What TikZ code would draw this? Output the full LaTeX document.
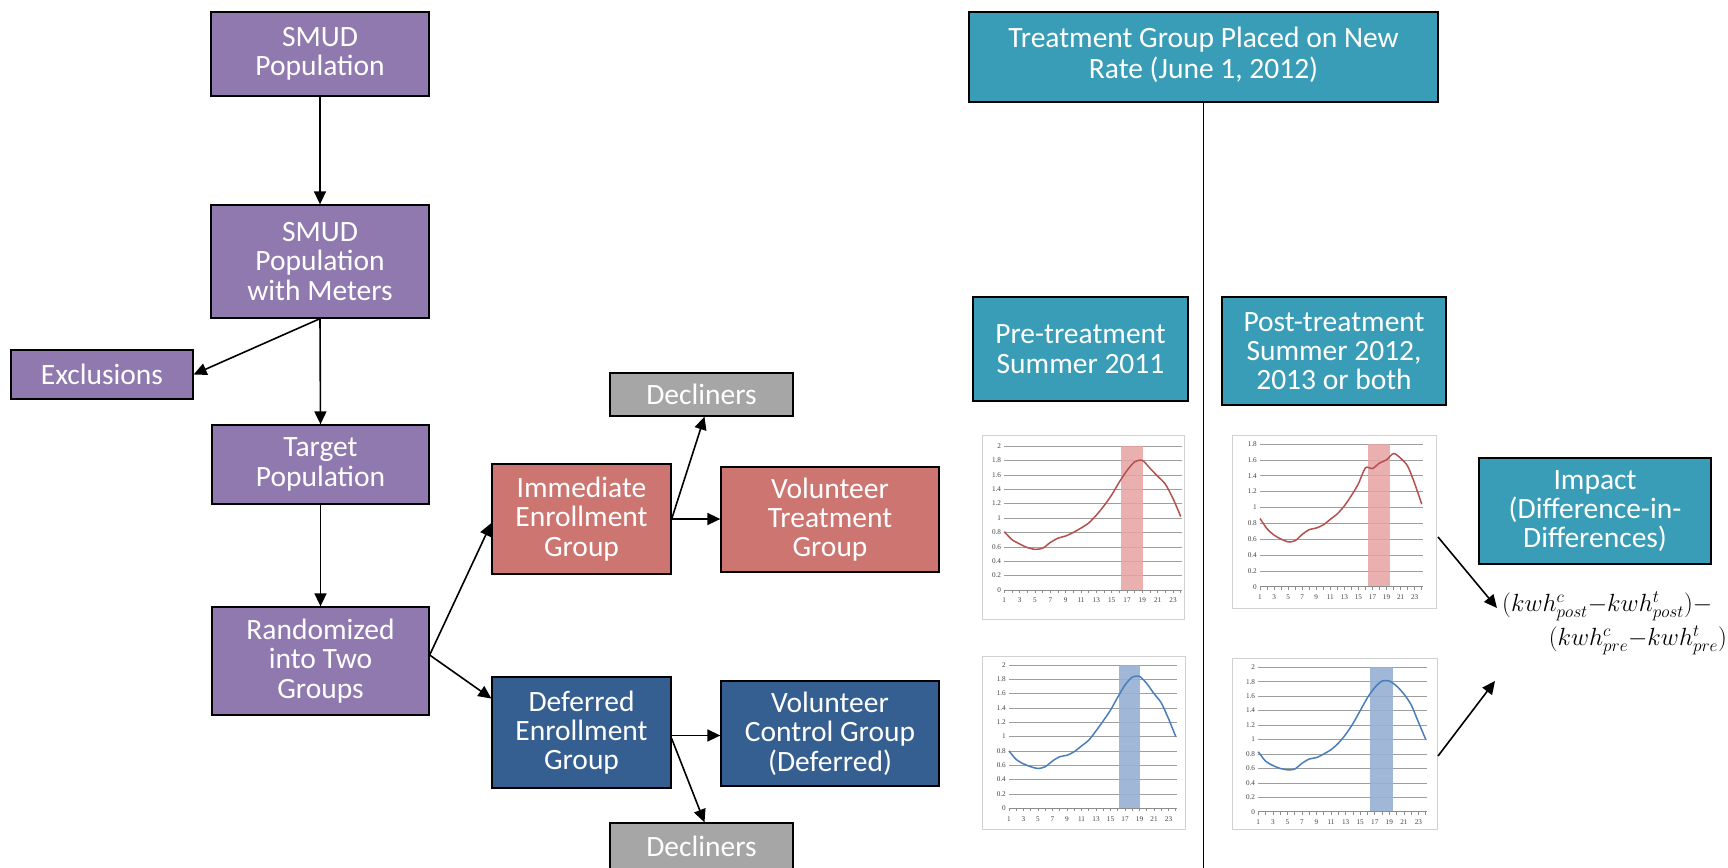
\documentclass[tikz,border=0pt]{standalone}
\usepackage{fontspec}
\setmainfont{Carlito}
\newfontfamily\chfont{Liberation Serif}
\usetikzlibrary{arrows.meta,calc}
\definecolor{cpurple}{HTML}{9079AE}
\definecolor{cred}{HTML}{CD7571}
\definecolor{cblue}{HTML}{365F91}
\definecolor{cteal}{HTML}{3A9DB7}
\definecolor{cgray}{HTML}{A6A6A6}
\definecolor{redline}{HTML}{B4504D}
\definecolor{blueline}{HTML}{4A7EBB}
\definecolor{redbarc}{HTML}{E6A3A2}
\definecolor{bluebarc}{HTML}{97B0D3}
\newcommand{\bxfont}{\fontsize{29.5}{29.3}\selectfont}
\newcommand{\mychart}[8]{%
\begin{scope}[xshift=#1pt,yshift=-#2pt,x=#3pt,y=#4pt]
  \foreach \v in {#5}{\draw[gridl] (1,\v) -- (24.2,\v);
    \node[ylab] at (1,\v) {\v};}
  \fill[#7bar] #6;
  \draw[axisl] (1,0) -- (24.2,0);
  \foreach \h in {1,...,24}{\draw[axisl] (\h,0) -- ++(0pt,-3pt);}
  \foreach \h in {1,3,...,23}{\node[xlab] at (\h,0) {\h};}
  \draw[#7curve] plot[smooth,tension=0.45] coordinates {#8};
\end{scope}}
\begin{document}
\begin{tikzpicture}[x=1pt,y=-1pt,
  box/.style={draw=black,line width=1.3pt,text=white,align=center,font=\bxfont,inner sep=0pt},
  pbox/.style={box,fill=cpurple},
  rbox/.style={box,fill=cred},
  bbox/.style={box,fill=cblue},
  tbox/.style={box,fill=cteal},
  gbox/.style={box,fill=cgray},
  conn/.style={line width=1.6pt,-{Triangle[length=13pt,width=12pt]}},
  gridl/.style={draw=black!38,line width=0.6pt},
  axisl/.style={draw=black!45,line width=0.7pt},
  ylab/.style={anchor=east,font=\chfont\fontsize{7.2}{8}\selectfont,text=black!75,inner sep=0pt,xshift=-3pt},
  xlab/.style={anchor=north,font=\chfont\fontsize{7.2}{8}\selectfont,text=black!75,inner sep=0pt,yshift=-8pt},
  redbar/.style={fill=redbarc,opacity=0.85},
  bluebar/.style={fill=bluebarc,opacity=0.9},
  redcurve/.style={draw=redline,line width=1.5pt},
  bluecurve/.style={draw=blueline,line width=1.5pt},
  frame/.style={draw=black!18,line width=0.8pt,fill=white},
  formula/.style={inner sep=0pt,font=\fontsize{25}{28}\selectfont}]
\useasboundingbox (0,0) rectangle (1728,867);
\fill[white] (0,0) rectangle (1728,867);

% left flow
\node[pbox,minimum width=218pt,minimum height=84pt] (pop) at (320,54) {SMUD\\Population};
\node[pbox,minimum width=218pt,minimum height=113pt] (meters) at (320,261.5) {SMUD\\Population\\with Meters};
\node[pbox,minimum width=182pt,minimum height=49pt] (excl) at (102,374.5) {Exclusions};
\node[pbox,minimum width=217pt,minimum height=79pt] (target) at (320.5,464.5) {Target\\Population};
\node[pbox,minimum width=217pt,minimum height=108pt] (rand) at (320.5,661) {Randomized\\into Two\\Groups};
\node[rbox,minimum width=179pt,minimum height=110pt] (imm) at (581.5,519) {Immediate\\Enrollment\\Group};
\node[rbox,minimum width=218pt,minimum height=105pt] (vtg) at (830,519.5) {Volunteer\\Treatment\\Group};
\node[gbox,minimum width=183pt,minimum height=43pt] (decl1) at (701.5,394.5) {Decliners};
\node[bbox,minimum width=179pt,minimum height=111pt] (def) at (581.5,732.5) {Deferred\\Enrollment\\Group};
\node[bbox,minimum width=218pt,minimum height=105pt] (vcg) at (830,733.5) {Volunteer\\Control Group\\(Deferred)};
\node[gbox,minimum width=183pt,minimum height=46pt] (decl2) at (701.5,846) {Decliners};

\draw[conn] (pop.south) -- (meters.north);
\draw[conn] (meters.south) -- (target.north);
\draw[conn] (meters.south) -- (excl.east);
\draw[conn] (target.south) -- (rand.north);
\draw[conn] ([yshift=6pt]rand.east) -- ([yshift=-4pt]imm.west);
\draw[conn] ([yshift=6pt]rand.east) -- ([yshift=34pt]def.west);
\draw[conn] (imm.east) -- (imm.east -| vtg.west);
\draw[conn] (imm.east) -- ([xshift=3pt]decl1.south);
\draw[conn] ([yshift=-3pt]def.east) -- ([yshift=-3pt]def.east -| vcg.west);
\draw[conn] ([yshift=-6pt]def.east) -- ([xshift=3pt]decl2.north);

% right side
\node[tbox,minimum width=469pt,minimum height=90pt] (treat) at (1203.5,57) {\raisebox{5pt}{\begin{tabular}{@{}c@{}}Treatment Group Placed on New\\Rate (June 1, 2012)\end{tabular}}};
\coordinate (lineend) at (1203.5,870);
\draw[line width=1.3pt] (treat.south) -- (lineend);
\node[tbox,minimum width=215pt,minimum height=104pt] (pre) at (1080.5,349) {Pre-treatment\\Summer 2011};
\node[tbox,minimum width=224pt,minimum height=108pt] (post) at (1334,351) {Post-treatment\\Summer 2012,\\2013 or both};
\node[tbox,minimum width=232pt,minimum height=106pt] (impact) at (1595,511) {Impact\\(Difference-in-\\Differences)};

% charts
\draw[frame] (982,435) rectangle (1184,619);
\mychart{996.6}{590}{7.67}{72}{0,0.2,0.4,0.6,0.8,1,1.2,1.4,1.6,1.8,2}{(16.2,0) rectangle (19.1,2)}{red}{(1,0.81) (2,0.70) (3,0.64) (4,0.59) (5,0.565) (6,0.58) (7,0.66) (8,0.72) (9,0.75) (10,0.80) (11,0.86) (12,0.93) (13,1.04) (14,1.17) (15,1.32) (16,1.50) (17,1.66) (18,1.78) (19,1.80) (20,1.69) (21,1.58) (22,1.47) (23,1.27) (24,1.02)}

\draw[frame] (1232,435) rectangle (1436,608);
\mychart{1253}{586.7}{7.03}{79.3}{0,0.2,0.4,0.6,0.8,1,1.2,1.4,1.6,1.8}{(16.3,0) rectangle (19.5,1.8)}{red}{(1,0.86) (2,0.73) (3,0.65) (4,0.60) (5,0.565) (6,0.58) (7,0.66) (8,0.72) (9,0.74) (10,0.78) (11,0.85) (12,0.92) (13,1.02) (14,1.15) (15,1.30) (16,1.50) (17,1.49) (18,1.56) (19,1.60) (20,1.68) (21,1.62) (22,1.52) (23,1.30) (24,1.04)}

\draw[frame] (982,656) rectangle (1185,829);
\mychart{1001.75}{808.3}{7.25}{71.7}{0,0.2,0.4,0.6,0.8,1,1.2,1.4,1.6,1.8,2}{(16.2,0) rectangle (19.1,2)}{blue}{(1,0.80) (2,0.68) (3,0.62) (4,0.58) (5,0.555) (6,0.58) (7,0.66) (8,0.72) (9,0.74) (10,0.79) (11,0.87) (12,0.95) (13,1.08) (14,1.22) (15,1.37) (16,1.55) (17,1.72) (18,1.83) (19,1.84) (20,1.74) (21,1.60) (22,1.47) (23,1.25) (24,1.00)}

\draw[frame] (1232,658) rectangle (1437,829);
\mychart{1251}{811.7}{7.28}{72.2}{0,0.2,0.4,0.6,0.8,1,1.2,1.4,1.6,1.8,2}{(16.4,0) rectangle (19.5,2)}{blue}{(1,0.83) (2,0.70) (3,0.64) (4,0.60) (5,0.58) (6,0.59) (7,0.67) (8,0.73) (9,0.75) (10,0.80) (11,0.86) (12,0.95) (13,1.07) (14,1.22) (15,1.40) (16,1.58) (17,1.72) (18,1.81) (19,1.81) (20,1.74) (21,1.63) (22,1.48) (23,1.24) (24,1.00)}

% formula
\node[formula,anchor=west] (f1) at (1502,606) {$\bigl(kwh^{c}_{post}{-}kwh^{t}_{post}\bigr)-$};
\node[formula,anchor=east] (f2) at (1727,640) {$\bigl(kwh^{c}_{pre}{-}kwh^{t}_{pre}\bigr)$};
\coordinate (a1s) at (1438,537);
\coordinate (a1e) at (1497,608);
\coordinate (a2s) at (1438,756);
\coordinate (a2e) at (1495,681);
\draw[conn] (a1s) -- (a1e);
\draw[conn] (a2s) -- (a2e);
\end{tikzpicture}
\end{document}
